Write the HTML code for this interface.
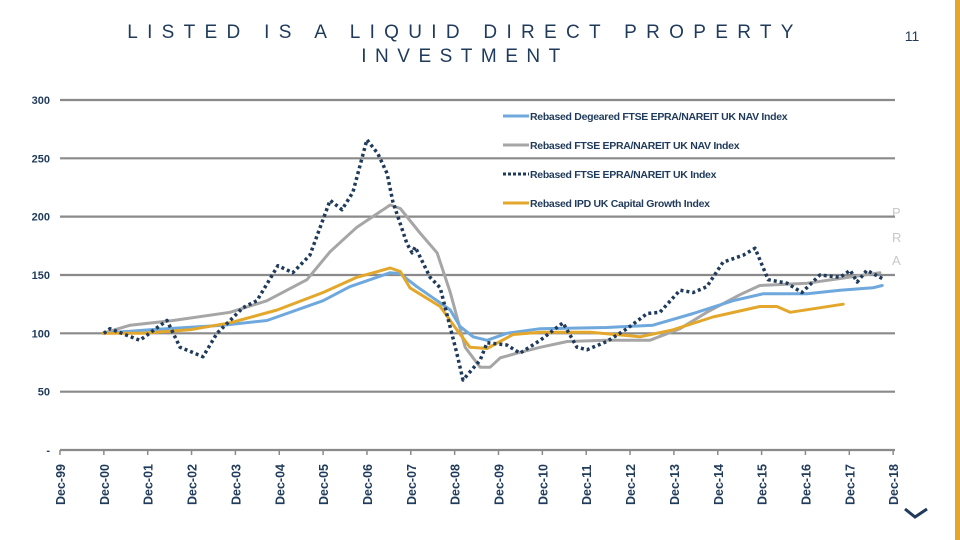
<!DOCTYPE html>
<html><head><meta charset="utf-8"><style>
body{margin:0;width:960px;height:540px;background:#fff;overflow:hidden;font-family:"Liberation Sans",sans-serif}
svg{position:absolute;left:0;top:0}
</style></head><body>
<svg id="c" width="960" height="540">
<rect x="955" y="0" width="5" height="540" fill="#e3a82b"/>
<text x="465" y="38" text-anchor="middle" font-size="19" letter-spacing="9.3" fill="#1f3a5a">LISTED IS A LIQUID DIRECT PROPERTY</text>
<text x="465" y="62" text-anchor="middle" font-size="19" letter-spacing="8.5" fill="#1f3a5a">INVESTMENT</text>
<text x="912" y="41" text-anchor="middle" font-size="14" fill="#1f3a5a">11</text>
<g fill="#c8c8c8" font-size="13"><text x="892" y="217">P</text><text x="892" y="242">R</text><text x="892" y="265">A</text></g>
<path d="M905 509 L915 517 L927 509" stroke="#1f3a5a" stroke-width="3" fill="none"/>
<g id="grid"></g><g id="series"></g><g id="legend"></g>
</svg>
<script>
const yTicks=[0,50,100,150,200,250,300];
const yTickLabels=["-","50","100","150","200","250","300"];
const xTickLabels=["Dec-99","Dec-00","Dec-01","Dec-02","Dec-03","Dec-04","Dec-05","Dec-06","Dec-07","Dec-08","Dec-09","Dec-10","Dec-11","Dec-12","Dec-13","Dec-14","Dec-15","Dec-16","Dec-17","Dec-18"];
// years since Dec-99
const listedT=[1.0,1.14,1.82,2.44,2.74,3.26,3.58,3.88,4.17,4.49,4.97,5.31,5.7,6.16,6.43,6.68,7.0,7.25,7.46,7.59,7.91,8.03,8.1,8.44,8.67,9.05,9.19,9.58,9.74,10.19,10.49,10.95,11.47,11.79,12.02,12.47,12.93,13.39,13.68,14.14,14.44,14.75,15.12,15.58,15.85,16.15,16.58,16.92,17.33,17.79,18.02,18.18,18.4,18.75];
const listedV=[100,104,94,111,88,80,100,111,122,128,158,152,167,214,206,221,266,254,237,213,177,169,174,148,139,83,60,77,92,90,83,94,109,88,86,93,104,117,118,137,135,140,161,167,173,146,143,135,150,148,154,144,154,147];
const navT=[0.98,1.6,2.58,3.88,4.72,5.63,6.16,6.77,7.53,7.76,8.21,8.6,8.9,9.24,9.58,9.81,10.04,10.42,10.95,11.57,12.47,13.45,14.14,14.75,15.5,15.96,17.04,17.79,18.7];
const navV=[100,107,111,118,128,146,170,191,210,207,186,169,135,88,71,71,79,83,88,93,94,94,104,118,133,141,143,147,152];
const degT=[0.98,2.05,3.72,4.72,6.0,6.61,7.53,7.76,8.14,8.6,8.9,9.12,9.42,9.74,10.19,10.95,12.47,13.52,14.44,15.35,16.04,17.04,17.79,18.54,18.75];
const degV=[100,103,107,111,128,140,152,151,140,128,120,106,97,94,100,104,105,107,117,128,134,134,137,139,141];
const ipdT=[0.98,1.89,2.96,3.88,4.95,6.0,6.77,7.53,7.76,7.98,8.67,9.05,9.35,9.74,10.33,10.95,12.09,13.23,13.98,14.89,15.96,16.35,16.65,17.86];
const ipdV=[100,100,103,109,120,135,148,156,153,139,123,103,88,87,99,101,101,97,103,114,123,123,118,125];
const NS="http://www.w3.org/2000/svg";
const X=t=>60+t*43.85, Y=v=>450-v*1.1667;
function mk(tag,attrs,parent){const e=document.createElementNS(NS,tag);for(const k in attrs)e.setAttribute(k,attrs[k]);parent.appendChild(e);return e;}
const grid=document.getElementById('grid');
yTicks.forEach((v,i)=>{
  if(v>0){const l=mk('line',{x1:60,x2:895,y1:Y(v),y2:Y(v),stroke:'#8a8a8a','stroke-width':2.2},grid);
  
  }
  const t=mk('text',{x:50,y:Y(v)+4,'text-anchor':'end','font-size':11,'font-weight':'bold',fill:'#1f3a5a'},grid);
  t.textContent=yTickLabels[i];
  
  
});
const ax=mk('line',{x1:60,x2:895,y1:450,y2:450,stroke:'#8a8a8a','stroke-width':2.2},grid);


xTickLabels.forEach((s,i)=>{
  const x=X(i);
  mk('line',{x1:x,x2:x,y1:450,y2:455,stroke:'#8a8a8a','stroke-width':1.5},grid);
  const t=mk('text',{x:0,y:0,transform:`translate(${x+5},${505}) rotate(-90)`,'font-size':12.5,'font-weight':'bold',fill:'#1f3a5a'},grid);
  t.textContent=s;
  
  
});
const ser=document.getElementById('series');
function line(T,V,color,name,w,dash,cap){
  const d=T.map((t,i)=>(i?'L':'M')+X(t).toFixed(1)+' '+Y(V[i]).toFixed(1)).join(' ');
  const p=mk('path',{d:d,fill:'none',stroke:color,'stroke-width':w,'stroke-linejoin':'round','stroke-linecap':cap||'round'},ser);
  if(dash)p.setAttribute('stroke-dasharray',dash);
  
  
}
line(navT,navV,'#a6a6a6','series-nav-index',3);
line(degT,degV,'#6fa8dc','series-degeared-nav-index',3);
line(ipdT,ipdV,'#e3a82b','series-ipd-capital-growth',3);
line(listedT,listedV,'#1f3a5a','series-listed-index',3.5,'3 3','butt');
const leg=document.getElementById('legend');
const items=[["Rebased Degeared FTSE EPRA/NAREIT UK NAV Index",'#6fa8dc',''],["Rebased FTSE EPRA/NAREIT UK NAV Index",'#a6a6a6',''],["Rebased FTSE EPRA/NAREIT UK Index",'#1f3a5a','3 2'],["Rebased IPD UK Capital Growth Index",'#e3a82b','']];
items.forEach((it,i)=>{
  const y=116+i*29;
  const g=mk('g',{},leg);
  
  
  const l=mk('line',{x1:503,x2:529,y1:y,y2:y,stroke:it[1],'stroke-width':3},g);
  if(it[2])l.setAttribute('stroke-dasharray',it[2]);
  const t=mk('text',{x:530,y:y+4,'font-size':10.5,'font-weight':'bold',fill:'#1f3a5a','letter-spacing':'-0.3'},g);
  t.textContent=it[0];
});
</script>
</body></html>
